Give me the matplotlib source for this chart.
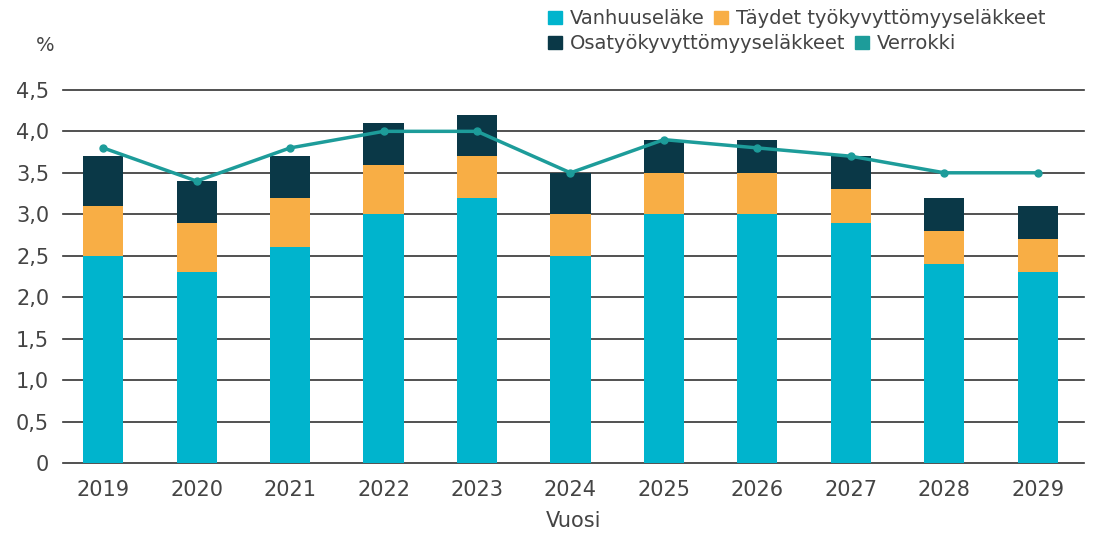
import matplotlib.pyplot as plt
from matplotlib.patches import Patch

vuodet = ['2019', '2020', '2021', '2022', '2023', '2024', '2025', '2026', '2027', '2028', '2029']
vanhuus = [2.5, 2.3, 2.6, 3.0, 3.2, 2.5, 3.0, 3.0, 2.9, 2.4, 2.3]
taydet = [0.6, 0.6, 0.6, 0.6, 0.5, 0.5, 0.5, 0.5, 0.4, 0.4, 0.4]
osa = [0.6, 0.5, 0.5, 0.5, 0.5, 0.5, 0.4, 0.4, 0.4, 0.4, 0.4]
verrokki = [3.8, 3.4, 3.8, 4.0, 4.0, 3.5, 3.9, 3.8, 3.7, 3.5, 3.5]

c_vanh = '#00B4CD'
c_tayd = '#F8AE45'
c_osa = '#0A3847'
c_verr = '#1D9C9A'
c_teksti = '#444444'

fig = plt.figure(figsize=(10.96, 5.35), dpi=100)
ax = fig.add_axes([0.0575, 0.1346, 0.932, 0.6974])

x = list(range(len(vuodet)))
w = 0.43
ax.bar(x, vanhuus, w, color=c_vanh, zorder=3)
ax.bar(x, taydet, w, bottom=vanhuus, color=c_tayd, zorder=3)
pohja = [a + b for a, b in zip(vanhuus, taydet)]
ax.bar(x, osa, w, bottom=pohja, color=c_osa, zorder=3)
ax.plot(x, verrokki, color=c_verr, lw=2.5, marker='o', ms=5, zorder=4)

ax.set_ylim(0, 4.5)
ax.set_xlim(-0.43, 10.5)
yt = [0, 0.5, 1.0, 1.5, 2.0, 2.5, 3.0, 3.5, 4.0, 4.5]
ax.set_yticks(yt)
ax.set_yticklabels(['0'] + [f'{v:.1f}'.replace('.', ',') for v in yt[1:]])
ax.set_xticks(x)
ax.set_xticklabels(vuodet)
ax.tick_params(axis='both', length=0, labelsize=15, colors=c_teksti)
ax.tick_params(axis='y', pad=10)
ax.tick_params(axis='x', pad=12)
ax.grid(axis='y', color='#333333', lw=1.2, zorder=1)
for g in ax.get_ygridlines():
    g.set_clip_on(False)
for s in ax.spines.values():
    s.set_visible(False)

ax.set_xlabel('Vuosi', fontsize=15, color=c_teksti, labelpad=8)
fig.text(0.033, 0.905, '%', fontsize=14, color=c_teksti)

# Selite kahtena rivinä kuten alkuperäisessä
asetukset = dict(ncol=2, loc='upper left', frameon=False, fontsize=14,
                 handlelength=0.7, handleheight=0.7, handletextpad=0.4,
                 columnspacing=0.5, labelcolor=c_teksti, borderpad=0.2)
fig.legend([Patch(color=c_vanh), Patch(color=c_tayd)],
           ['Vanhuuseläke', 'Täydet työkyvyttömyyseläkkeet'],
           bbox_to_anchor=(0.488, 1.008), **asetukset)
fig.legend([Patch(color=c_osa), Patch(color=c_verr)],
           ['Osatyökyvyttömyyseläkkeet', 'Verrokki'],
           bbox_to_anchor=(0.488, 0.961), **asetukset)

fig.savefig('out.png', dpi=100)
